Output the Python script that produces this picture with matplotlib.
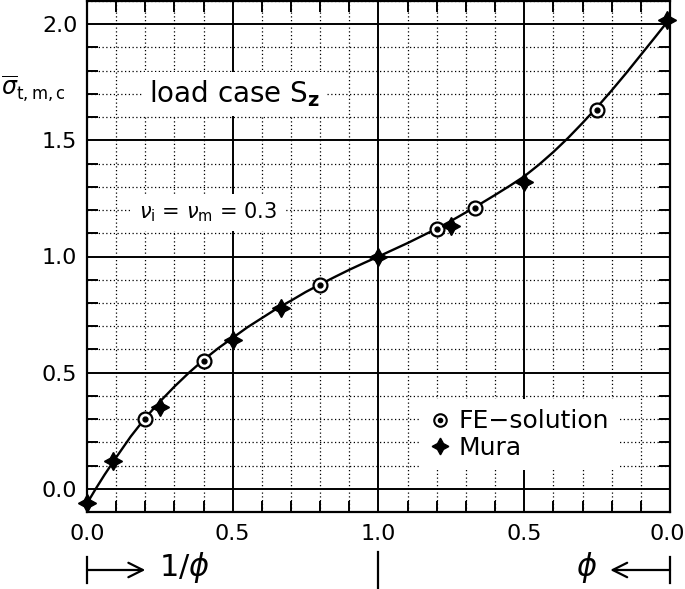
import matplotlib.pyplot as plt
from matplotlib.ticker import MultipleLocator
from matplotlib.transforms import offset_copy

# x axis: 0..1 is 1/phi (left half), 1..2 is 2 - phi (right half, phi running back to 0)
curve_x = [0.0, 0.03, 0.06, 0.1, 0.15, 0.2, 0.25, 0.3, 0.35, 0.4, 0.45, 0.5,
           0.55, 0.6, 0.65, 0.7, 0.75, 0.8, 0.85, 0.9, 0.95, 1.0, 1.05, 1.1,
           1.15, 1.2, 1.25, 1.3, 1.35, 1.4, 1.45, 1.5, 1.55, 1.6, 1.65, 1.7,
           1.75, 1.8, 1.85, 1.9, 1.95, 2.0]
curve_y = [-0.063, 0.0, 0.06, 0.135, 0.225, 0.305, 0.375, 0.44, 0.50, 0.555,
           0.605, 0.65, 0.695, 0.735, 0.775, 0.81, 0.847, 0.88, 0.912, 0.943,
           0.972, 1.0, 1.029, 1.058, 1.089, 1.12, 1.154, 1.19, 1.227, 1.265,
           1.304, 1.345, 1.395, 1.45, 1.51, 1.575, 1.643, 1.715, 1.79, 1.868,
           1.946, 2.025]

fe_x = [0.2, 0.4, 0.8, 1.2, 1.33, 1.75]
fe_y = [0.30, 0.55, 0.877, 1.12, 1.21, 1.63]

mura_x = [0.0, 0.09, 0.25, 0.5, 0.667, 1.0, 1.25, 1.5, 1.99]
mura_y = [-0.063, 0.12, 0.35, 0.64, 0.78, 1.0, 1.13, 1.32, 2.02]

tick_pos = [0.0, 0.5, 1.0, 1.5, 2.0]
tick_labels = ["0.0", "0.5", "1.0", "0.5", "0.0"]
ytick_pos = [0.0, 0.5, 1.0, 1.5, 2.0]


def main():
    plt.rcParams["font.family"] = ["DejaVu Sans"]
    plt.rcParams["mathtext.fontset"] = "dejavusans"

    fig = plt.figure(figsize=(6.85, 5.89), dpi=100)
    ax = fig.add_axes([87 / 685, 1 - 512 / 589, 583 / 685, 511 / 589])

    ax.set_xlim(0, 2)
    ax.set_ylim(-0.1, 2.1)

    ax.xaxis.set_minor_locator(MultipleLocator(0.1))
    ax.yaxis.set_minor_locator(MultipleLocator(0.1))
    ax.set_xticks(tick_pos)
    ax.set_xticklabels(tick_labels)
    ax.set_yticks(ytick_pos)
    ax.set_yticklabels([f"{v:.1f}" for v in ytick_pos])

    ax.set_axisbelow(True)
    ax.grid(which="major", color="black", linewidth=1.4, linestyle="-")
    ax.grid(which="minor", color="black", linewidth=0.9, linestyle=(0, (1, 2)))

    ax.tick_params(which="both", direction="in", top=True, right=True,
                   width=1.4, labelsize=16, color="black")
    ax.tick_params(which="minor", length=8)
    ax.tick_params(which="major", length=0)
    ax.tick_params(axis="x", pad=9)
    ax.tick_params(axis="y", pad=7)
    for s in ax.spines.values():
        s.set_linewidth(1.6)

    # pull the last x label in a little so it stays inside the picture
    last = ax.get_xticklabels()[-1]
    last.set_transform(offset_copy(last.get_transform(), fig=fig, x=-3, units="dots"))

    ax.plot(curve_x, curve_y, color="black", linewidth=1.7, zorder=3)

    ax.plot(fe_x, fe_y, linestyle="none", marker="o", markersize=10,
            markerfacecolor="white", markeredgecolor="black",
            markeredgewidth=1.6, zorder=4)
    ax.plot(fe_x, fe_y, linestyle="none", marker="o", markersize=3.5,
            color="black", zorder=5)
    ax.plot(mura_x, mura_y, linestyle="none", marker=(4, 1, 0), markersize=13,
            color="black", zorder=4, clip_on=False)

    # legend
    fe_handle = (
        plt.Line2D([], [], linestyle="none", marker="o", markersize=9,
                   markerfacecolor="white", markeredgecolor="black",
                   markeredgewidth=1.5),
        plt.Line2D([], [], linestyle="none", marker="o", markersize=3,
                   color="black"),
    )
    mura_handle = plt.Line2D([], [], linestyle="none", marker=(4, 1, 0),
                             markersize=12, color="black")
    leg = ax.legend([fe_handle, mura_handle], ["FE\u2212solution", "Mura"],
                    loc="upper left", bbox_to_anchor=(0.55, 0.245),
                    fontsize=18, frameon=True, framealpha=1,
                    facecolor="white", edgecolor="none", fancybox=False,
                    handlelength=0.8, handletextpad=0.35, labelspacing=0.1,
                    borderpad=0.4)
    leg.set_zorder(6)

    box = dict(facecolor="white", edgecolor="none", pad=5)
    ax.text(0.505, 1.70, r"load case S$_{\mathbf{z}}$", fontsize=20,
            ha="center", va="center", bbox=box, zorder=3)
    ax.text(0.415, 1.19, r"$\nu_{\mathrm{i}}$ = $\nu_{\mathrm{m}}$ = 0.3",
            fontsize=15, ha="center", va="center", bbox=box, zorder=3)

    fig.text(1 / 685, 1 - 88 / 589, r"$\overline{\sigma}_{\mathrm{t,m,c}}$",
             fontsize=17, ha="left", va="center")

    # phi indicators below the x axis
    tr = ax.get_xaxis_transform()
    y_arr = -0.1135
    ax.plot([0, 0], [-0.088, -0.139], color="black", lw=1.6, transform=tr,
            clip_on=False)
    ax.plot([1, 1], [-0.078, -0.149], color="black", lw=1.6, transform=tr,
            clip_on=False)
    ax.plot([2, 2], [-0.088, -0.139], color="black", lw=1.6, transform=tr,
            clip_on=False)
    arrow = dict(arrowstyle="->", lw=1.6, color="black", shrinkA=0, shrinkB=0,
                 mutation_scale=26)
    ax.annotate("", xy=(0.2, y_arr), xytext=(0.0, y_arr), xycoords=tr,
                textcoords=tr, arrowprops=arrow, annotation_clip=False)
    ax.annotate("", xy=(1.795, y_arr), xytext=(2.0, y_arr), xycoords=tr,
                textcoords=tr, arrowprops=arrow, annotation_clip=False)
    ax.text(0.335, y_arr + 0.005, r"$1/\phi$", transform=tr, fontsize=22,
            ha="center", va="center")
    ax.text(1.715, y_arr + 0.005, r"$\phi$", transform=tr, fontsize=22,
            ha="center", va="center")

    fig.savefig("out.png", dpi=100)


if __name__ == "__main__":
    main()
